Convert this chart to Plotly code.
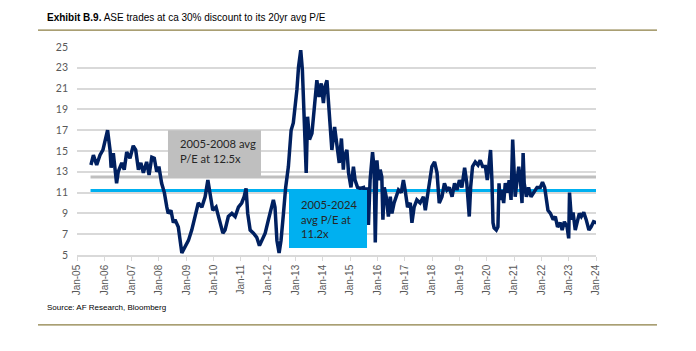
import pandas as pd
import plotly.graph_objects as go

# Decimal-year positions and P/E values
years = [2005.51, 2005.60, 2005.72, 2005.84, 2005.95, 2006.12, 2006.21, 2006.25, 2006.33, 2006.45,
         2006.51, 2006.64, 2006.73, 2006.82, 2006.94, 2007.06, 2007.15, 2007.25, 2007.34, 2007.43,
         2007.55, 2007.64, 2007.74, 2007.83, 2007.92, 2008.00, 2008.10, 2008.20, 2008.29, 2008.34,
         2008.44, 2008.53, 2008.59, 2008.71, 2008.84, 2008.96, 2009.08, 2009.20, 2009.32, 2009.44,
         2009.57, 2009.69, 2009.79, 2009.87, 2009.97, 2010.09, 2010.21, 2010.34, 2010.42, 2010.54,
         2010.67, 2010.79, 2010.91, 2011.03, 2011.12, 2011.19, 2011.25, 2011.34, 2011.46, 2011.58,
         2011.68, 2011.89, 2012.01, 2012.11, 2012.19, 2012.25, 2012.32, 2012.40, 2012.47, 2012.56,
         2012.64, 2012.74, 2012.84, 2012.92, 2012.99, 2013.05, 2013.11, 2013.19, 2013.25, 2013.30,
         2013.35, 2013.39, 2013.44, 2013.51, 2013.60, 2013.69, 2013.78, 2013.86, 2013.94, 2014.02,
         2014.08, 2014.15, 2014.21, 2014.27, 2014.33, 2014.43, 2014.51, 2014.60, 2014.68, 2014.75,
         2014.78, 2014.88, 2014.94, 2015.03, 2015.12, 2015.18, 2015.27, 2015.37, 2015.49, 2015.55,
         2015.61, 2015.67, 2015.73, 2015.82, 2015.88, 2015.92, 2015.98, 2016.04, 2016.10, 2016.16,
         2016.20, 2016.25, 2016.32, 2016.40, 2016.47, 2016.53, 2016.61, 2016.69, 2016.77, 2016.87,
         2016.95, 2017.01, 2017.10, 2017.20, 2017.26, 2017.34, 2017.44, 2017.56, 2017.68, 2017.75,
         2017.87, 2017.99, 2018.09, 2018.18, 2018.26, 2018.36, 2018.45, 2018.54, 2018.63, 2018.73,
         2018.82, 2018.91, 2019.00, 2019.09, 2019.19, 2019.27, 2019.36, 2019.41, 2019.48, 2019.58,
         2019.68, 2019.76, 2019.85, 2019.95, 2020.02, 2020.07, 2020.14, 2020.19, 2020.23, 2020.27,
         2020.35, 2020.41, 2020.45, 2020.49, 2020.56, 2020.62, 2020.68, 2020.76, 2020.82, 2020.89,
         2020.95, 2020.98, 2021.04, 2021.11, 2021.17, 2021.23, 2021.29, 2021.33, 2021.37, 2021.45,
         2021.53, 2021.62, 2021.71, 2021.84, 2021.96, 2022.04, 2022.12, 2022.18, 2022.24, 2022.33,
         2022.43, 2022.51, 2022.59, 2022.69, 2022.76, 2022.84, 2022.94, 2023.00, 2023.03, 2023.10,
         2023.16, 2023.24, 2023.30, 2023.39, 2023.46, 2023.55, 2023.64, 2023.74, 2023.82, 2023.91,
         2024.01]
pe = [13.65, 14.6, 13.65, 14.6, 15.1, 17.0, 15.1, 13.4, 14.8, 11.9,
      13.0, 13.85, 13.2, 14.9, 14.3, 15.5, 15.1, 13.2, 13.85, 12.9,
      13.95, 12.7, 14.4, 14.3, 13.0, 13.5, 11.9, 11.0, 9.6, 9.0,
      9.3, 8.1, 8.4, 7.7, 5.2, 5.8, 6.4, 7.4, 8.7, 10.0,
      9.6, 10.6, 12.2, 11.0, 9.3, 9.6, 8.4, 7.1, 7.4, 8.7,
      9.0, 8.7, 9.6, 10.0, 10.6, 11.4, 9.0, 7.4, 7.1, 6.7,
      5.9, 7.1, 8.4, 9.3, 10.3, 9.6, 6.4, 5.2, 6.4, 9.0,
      11.5, 13.5, 17.0, 17.7, 19.3, 20.9, 23.1, 24.7, 22.8, 19.3,
      16.7, 12.9, 18.3, 16.1, 16.7, 19.3, 21.8, 20.2, 21.5, 19.6,
      21.2, 21.8, 19.3, 16.3, 15.1, 17.3, 15.4, 13.85, 16.2, 13.2,
      14.4, 15.1, 12.9, 11.5, 13.5, 12.2, 11.5, 11.4, 11.5, 10.8,
      11.5, 7.9, 12.2, 14.9, 13.2, 6.2, 14.1, 12.2, 13.2, 12.5,
      8.4, 11.5, 10.6, 8.7, 10.6, 9.0, 10.0, 10.6, 11.25, 11.0,
      12.2, 11.25, 9.6, 10.0, 8.1, 9.6, 10.3, 10.0, 10.6, 9.3,
      11.25, 13.5, 13.95, 12.9, 10.0, 10.6, 11.9, 11.25, 11.5, 10.6,
      11.9, 11.25, 12.2, 11.5, 13.4, 11.9, 8.7, 11.5, 13.5, 13.95,
      13.65, 14.1, 13.5, 13.5, 12.2, 13.2, 15.1, 12.2, 8.1, 7.6,
      7.4, 7.7, 11.9, 10.3, 11.25, 10.0, 11.9, 11.0, 12.2, 10.3,
      16.1, 14.4, 10.6, 12.2, 13.5, 12.2, 10.0, 14.8, 11.9, 10.6,
      11.5, 10.6, 11.0, 11.5, 11.5, 12.0, 11.5, 10.3, 9.3, 9.0,
      8.4, 8.7, 7.7, 8.1, 7.4, 8.2, 7.7, 6.6, 11.0, 8.4,
      9.1, 7.4, 8.1, 9.0, 8.7, 9.1, 8.4, 7.4, 7.7, 8.2,
      8.1]

avg_labels = ["2005-2008 avg<br>P/E at 12.5x", "2005-2024<br>avg P/E at<br>11.2x"]
avg_values = [12.5, 11.2]
avg_start = "2005-07-01"
avg_end = "2024-01-01"

title_bold = "Exhibit B.9."
title_rest = " ASE trades at ca 30% discount to its 20yr avg P/E"
source_text = "Source: AF Research, Bloomberg"


def to_date(y):
    yi = int(y)
    return pd.Timestamp(yi, 1, 1) + pd.Timedelta(days=(y - yi) * 365.25)


dates = [to_date(y) for y in years]

NAVY = "#002060"
GREY = "#BFBFBF"
CYAN = "#00B0F0"
GRID = "#D9D9D9"
RULE = "#8C7F45"

fig = go.Figure()
fig.add_trace(go.Scatter(x=[avg_start, avg_end], y=[avg_values[0]] * 2, mode="lines",
                         line=dict(color=GREY, width=3), showlegend=False, hoverinfo="skip"))
fig.add_trace(go.Scatter(x=[avg_start, avg_end], y=[avg_values[1]] * 2, mode="lines",
                         line=dict(color=CYAN, width=3), showlegend=False, hoverinfo="skip"))
fig.add_trace(go.Scatter(x=dates, y=pe, mode="lines",
                         line=dict(color=NAVY, width=3.5), showlegend=False))

fig.update_layout(
    width=696, height=351,
    margin=dict(l=77, r=100, t=47, b=96),
    paper_bgcolor="white", plot_bgcolor="white",
    xaxis=dict(
        type="date", range=["2005-01-01", "2024-01-01"],
        tick0="2005-01-01", dtick="M12", tickformat="%b-%y", tickangle=-90,
        showgrid=False, showline=True, linecolor=GRID, linewidth=1.5,
        ticks="outside", ticklen=4, tickcolor=GRID,
        tickfont=dict(family="Liberation Sans, Arial", size=10, color="#595959"),
    ),
    yaxis=dict(
        range=[5, 25], tick0=5, dtick=2,
        showgrid=True, gridcolor=GRID, gridwidth=1.5, zeroline=False,
        showline=False, ticks="", ticklabelstandoff=8,
        tickfont=dict(family="Lato, Calibri, sans-serif", size=10.5, color="#595959"),
    ),
    shapes=[
        dict(type="rect", xref="paper", yref="paper", x0=0.1753, x1=0.3545, y0=0.3745, y1=0.600,
             fillcolor=GREY, line=dict(width=0), layer="above"),
        dict(type="rect", xref="paper", yref="paper", x0=0.4085, x1=0.5588, y0=0.0336, y1=0.312,
             fillcolor=CYAN, line=dict(width=0), layer="above"),
        dict(type="line", xref="paper", yref="paper", x0=-0.0751, x1=1.1175, y0=1.0816, y1=1.0816,
             line=dict(color=RULE, width=1.2)),
        dict(type="line", xref="paper", yref="paper", x0=-0.0751, x1=1.1175, y0=-0.336, y1=-0.336,
             line=dict(color=RULE, width=1.2)),
    ],
    annotations=[
        dict(text=avg_labels[0], xref="paper", yref="paper", x=0.1946, y=0.575,
             xanchor="left", yanchor="top", align="left", showarrow=False,
             font=dict(family="Lato, Calibri, sans-serif", size=11.2, color="#262626")),
        dict(text=avg_labels[1], xref="paper", yref="paper", x=0.4277, y=0.283,
             xanchor="left", yanchor="top", align="left", showarrow=False,
             font=dict(family="Lato, Calibri, sans-serif", size=11.2, color="#262626")),
        dict(text="<b>" + title_bold + "</b>" + title_rest, xref="paper", yref="paper",
             x=-0.0617, y=1.107, xanchor="left", yanchor="bottom", align="left", showarrow=False,
             font=dict(family="Liberation Sans, Arial", size=10, color="black")),
        dict(text=source_text, xref="paper", yref="paper", x=-0.0617, y=-0.2525,
             xanchor="left", yanchor="middle", align="left", showarrow=False,
             font=dict(family="Liberation Sans, Arial", size=8, color="black")),
    ],
)

fig.write_html("out.html")
